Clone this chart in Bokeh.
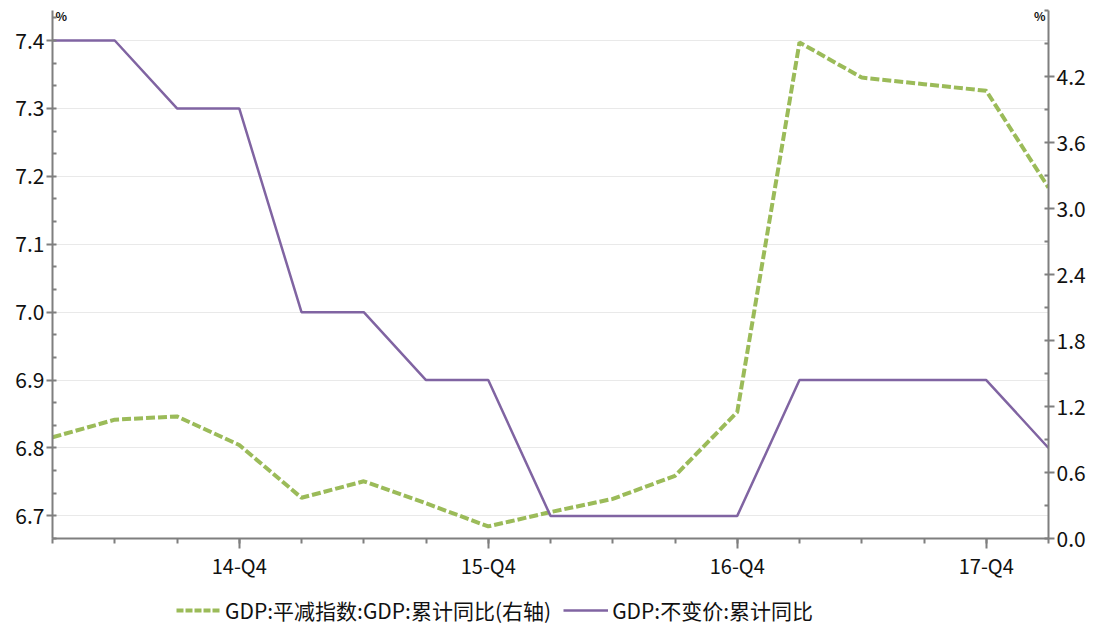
from bokeh.plotting import figure
from bokeh.models import (Range1d, LinearAxis, FixedTicker, Legend, LegendItem, Label)
from bokeh.layouts import column
from bokeh.embed import file_html
from bokeh.resources import INLINE

quarters = ["14-Q1", "14-Q2", "14-Q3", "14-Q4", "15-Q1", "15-Q2", "15-Q3", "15-Q4",
            "16-Q1", "16-Q2", "16-Q3", "16-Q4", "17-Q1", "17-Q2", "17-Q3", "17-Q4", "18-Q1"]
gdp_constant = [7.4, 7.4, 7.3, 7.3, 7.0, 7.0, 6.9, 6.9,
                6.7, 6.7, 6.7, 6.7, 6.9, 6.9, 6.9, 6.9, 6.8]
gdp_deflator = [0.92, 1.08, 1.11, 0.85, 0.37, 0.52, 0.32, 0.11,
                0.24, 0.36, 0.57, 1.15, 4.51, 4.19, 4.13, 4.07, 3.19]
label_quarters = ["14-Q4", "15-Q4", "16-Q4", "17-Q4"]
left_ticks = [6.7, 6.8, 6.9, 7.0, 7.1, 7.2, 7.3, 7.4]
right_ticks = [0.0, 0.6, 1.2, 1.8, 2.4, 3.0, 3.6, 4.2]

name_deflator = "GDP:平减指数:GDP:累计同比(右轴)"
name_constant = "GDP:不变价:累计同比"

FONT = "Noto Sans CJK SC"
AXIS_COLOR = "#7f7f7f"
GREEN = "#9bbb59"
PURPLE = "#8064a2"

xs = list(range(len(quarters)))

p = figure(frame_width=996, frame_height=528, output_backend="svg", toolbar_location=None,
           x_range=Range1d(0, len(quarters) - 1), y_range=Range1d(6.6667, 7.4442),
           min_border_left=52, min_border_right=49, min_border_top=10, min_border_bottom=40,
           x_axis_location=None, y_axis_location=None)
p.outline_line_color = None
p.xgrid.visible = False
p.extra_y_ranges = {"right": Range1d(0, 4.8)}

# x axis
major_x = [quarters.index(q) for q in label_quarters]
xaxis = LinearAxis(ticker=FixedTicker(ticks=major_x, minor_ticks=xs))
xaxis.major_label_overrides = {i: quarters[i] for i in major_x}
xaxis.axis_line_color = AXIS_COLOR
xaxis.axis_line_width = 2
xaxis.major_tick_line_color = AXIS_COLOR
xaxis.major_tick_line_width = 2
xaxis.minor_tick_line_color = AXIS_COLOR
xaxis.minor_tick_line_width = 2
xaxis.major_tick_in = 0
xaxis.major_tick_out = 10
xaxis.minor_tick_in = 0
xaxis.minor_tick_out = 5
xaxis.major_label_text_font = FONT
xaxis.major_label_text_font_size = "20px"
xaxis.major_label_text_color = "#111111"
xaxis.major_label_standoff = 2
p.add_layout(xaxis, "below")

# left axis
minor_left = [round(6.7 - 1/30 + i / 30, 4) for i in range(24)]
laxis = LinearAxis(ticker=FixedTicker(ticks=left_ticks, minor_ticks=minor_left))
laxis.major_label_overrides = {t: f"{t:.1f}" for t in left_ticks}
laxis.axis_line_color = AXIS_COLOR
laxis.axis_line_width = 2
laxis.major_tick_line_color = AXIS_COLOR
laxis.major_tick_line_width = 2
laxis.minor_tick_line_color = AXIS_COLOR
laxis.minor_tick_line_width = 2
laxis.major_tick_in = 0
laxis.major_tick_out = 6
laxis.minor_tick_in = 4
laxis.minor_tick_out = 0
laxis.major_label_text_font = FONT
laxis.major_label_text_font_size = "21px"
laxis.major_label_text_color = "#111111"
laxis.major_label_standoff = 2
p.add_layout(laxis, "left")

# right axis
minor_right = [round(i * 0.3, 2) for i in range(17)]
raxis = LinearAxis(y_range_name="right",
                   ticker=FixedTicker(ticks=right_ticks, minor_ticks=minor_right))
raxis.major_label_overrides = {t: f"{t:.1f}" for t in right_ticks}
raxis.axis_line_color = AXIS_COLOR
raxis.axis_line_width = 2
raxis.major_tick_line_color = AXIS_COLOR
raxis.major_tick_line_width = 2
raxis.minor_tick_line_color = AXIS_COLOR
raxis.minor_tick_line_width = 2
raxis.major_tick_in = 0
raxis.major_tick_out = 6
raxis.minor_tick_in = 4
raxis.minor_tick_out = 0
raxis.major_label_text_font = FONT
raxis.major_label_text_font_size = "21px"
raxis.major_label_text_color = "#111111"
raxis.major_label_standoff = 2
p.add_layout(raxis, "right")

p.ygrid.ticker = FixedTicker(ticks=left_ticks)
p.ygrid.grid_line_color = "#e9e9e9"
p.ygrid.grid_line_width = 1

p.line(xs, gdp_deflator, y_range_name="right", line_color=GREEN,
       line_width=4, line_dash="9 3")
p.line(xs, gdp_constant, line_color=PURPLE, line_width=2.5)

lab_l = Label(x=0, y=7.4, text="%", x_offset=3, y_offset=17,
              text_font=FONT, text_font_size="12px", text_font_style="bold",
              text_baseline="bottom", text_align="left", text_color="#111111")
lab_r = Label(x=len(quarters) - 1, y=7.4, text="%", x_offset=-3, y_offset=17,
              text_font=FONT, text_font_size="12px", text_font_style="bold",
              text_baseline="bottom", text_align="right", text_color="#111111")
p.add_layout(lab_l)
p.add_layout(lab_r)

# legend strip below the chart (series drawn outside its view, only legend shows)
lg = figure(width=1097, height=46, output_backend="svg", toolbar_location=None,
            x_range=Range1d(0, 1), y_range=Range1d(100, 101),
            min_border=0, x_axis_location=None, y_axis_location=None)
lg.outline_line_color = None
lg.grid.visible = False
g_def = lg.line(xs, gdp_deflator, line_color=GREEN, line_width=4, line_dash="7 2")
g_con = lg.line(xs, gdp_constant, line_color=PURPLE, line_width=2.5)
legend = Legend(items=[LegendItem(label=name_deflator, renderers=[g_def]),
                       LegendItem(label=name_constant, renderers=[g_con])],
                orientation="horizontal", location=(124, 3),
                label_text_font=FONT, label_text_font_size="21px",
                label_text_color="#111111", glyph_width=45, spacing=12,
                label_standoff=4,
                border_line_color=None, background_fill_alpha=0,
                margin=0, padding=0)
lg.add_layout(legend, "center")

layout = column(p, lg, spacing=0)
open("out.html", "w").write(file_html(layout, INLINE))
